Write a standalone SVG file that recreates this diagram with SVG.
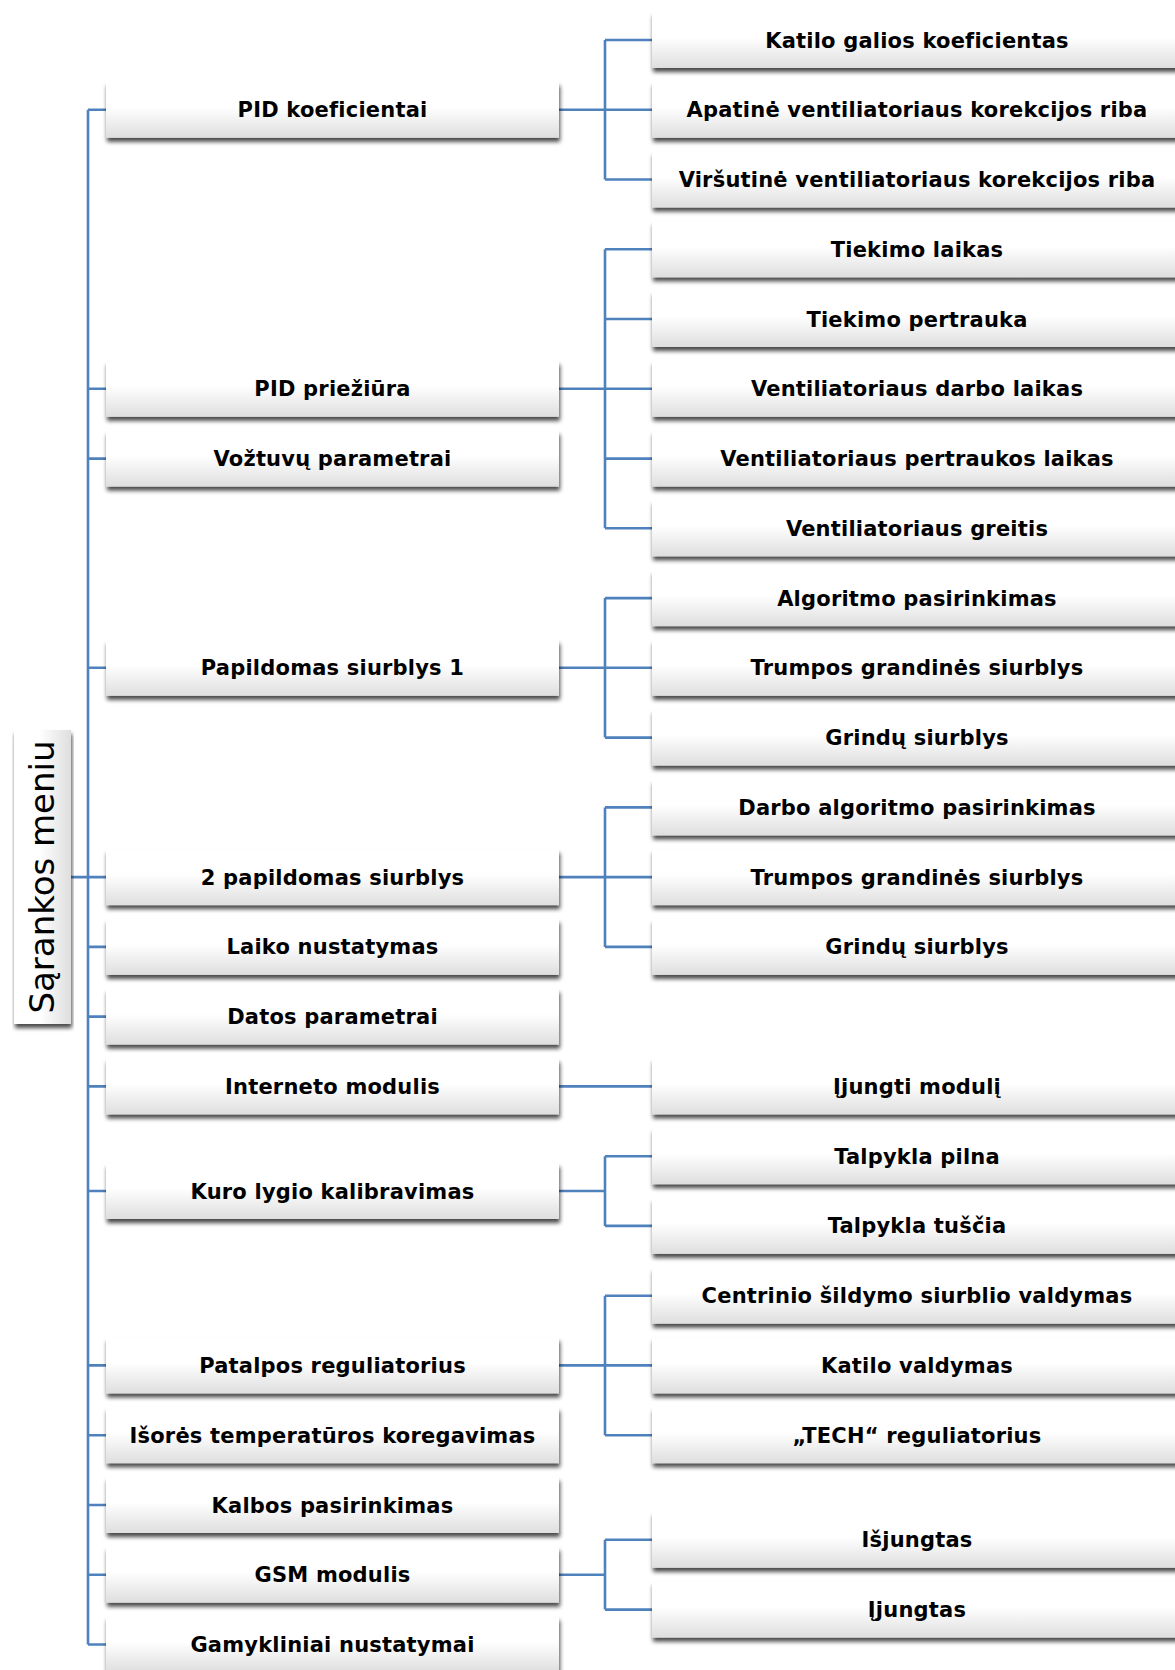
<svg xmlns="http://www.w3.org/2000/svg" width="1175" height="1670" viewBox="0 0 1175 1670">
<style>
.box{fill:url(#g);filter:url(#sh)}
.rbox{fill:url(#gr);filter:url(#sh)}
.t{font-family:"DejaVu Sans",Verdana,sans-serif;font-weight:bold;font-size:21px;letter-spacing:0.2px;fill:#000;text-anchor:middle}
.root{font-family:"DejaVu Sans",sans-serif;font-size:34px;fill:#000;text-anchor:middle}
.c{fill:none;stroke:#4F81BD;stroke-width:2.6}
</style>
<defs>
<linearGradient id="g" x1="0" y1="0" x2="0" y2="1">
<stop offset="0" stop-color="#ffffff"/>
<stop offset="0.45" stop-color="#ffffff"/>
<stop offset="1" stop-color="#dedede"/>
</linearGradient>
<linearGradient id="gr" x1="0" y1="0" x2="1" y2="0">
<stop offset="0" stop-color="#ffffff"/>
<stop offset="0.45" stop-color="#ffffff"/>
<stop offset="1" stop-color="#dedede"/>
</linearGradient>
<filter id="sh" x="-5%" y="-20%" width="110%" height="150%">
<feGaussianBlur in="SourceAlpha" stdDeviation="2"/>
<feOffset dx="1" dy="4" result="b"/>
<feComponentTransfer><feFuncA type="linear" slope="0.72"/></feComponentTransfer>
<feMerge><feMergeNode/><feMergeNode in="SourceGraphic"/></feMerge>
</filter>
</defs>
<rect width="1175" height="1670" fill="#fff"/>

<g id="connectors">
<path class="c" d="M88 109.8V1644.5M71 877.1H88"/>
<path class="c" d="M88 109.8H106M88 388.8H106M88 458.6H106M88 667.8H106M88 877.1H106M88 946.9H106M88 1016.6H106M88 1086.4H106M88 1191H106M88 1365.4H106M88 1435.2H106M88 1505H106M88 1574.7H106M88 1644.5H106"/>
<path class="c" d="M559 109.8H605M605 40V179.5M605 40H652M605 109.8H652M605 179.5H652"/>
<path class="c" d="M559 388.8H605M605 249.3V528.3M605 249.3H652M605 319H652M605 388.8H652M605 458.6H652M605 528.3H652"/>
<path class="c" d="M559 667.8H605M605 598.1V737.6M605 598.1H652M605 667.8H652M605 737.6H652"/>
<path class="c" d="M559 877.1H605M605 807.4V946.9M605 807.4H652M605 877.1H652M605 946.9H652"/>
<path class="c" d="M559 1086.4H652"/>
<path class="c" d="M559 1191H605M605 1156.2V1225.9M605 1156.2H652M605 1225.9H652"/>
<path class="c" d="M559 1365.4H605M605 1295.7V1435.2M605 1295.7H652M605 1365.4H652M605 1435.2H652"/>
<path class="c" d="M559 1574.7H605M605 1539.8V1609.6M605 1539.8H652M605 1609.6H652"/>
</g>

<g id="root">
<rect class="rbox" x="14" y="730" width="57" height="294"/>
<text class="root" x="54" y="877" transform="rotate(-90 54 877)">Sąrankos meniu</text>
</g>

<g id="n-pid-koef"><rect class="box" x="106" y="81.8" width="453" height="56"/><text class="t" x="332.5" y="117.3">PID koeficientai</text></g>
<g id="n-pid-prieziura"><rect class="box" x="106" y="360.8" width="453" height="56"/><text class="t" x="332.5" y="396.3">PID priežiūra</text></g>
<g id="n-voztuvu"><rect class="box" x="106" y="430.6" width="453" height="56"/><text class="t" x="332.5" y="466.1">Vožtuvų parametrai</text></g>
<g id="n-pap1"><rect class="box" x="106" y="639.8" width="453" height="56"/><text class="t" x="332.5" y="675.3">Papildomas siurblys 1</text></g>
<g id="n-pap2"><rect class="box" x="106" y="849.1" width="453" height="56"/><text class="t" x="332.5" y="884.6">2 papildomas siurblys</text></g>
<g id="n-laiko"><rect class="box" x="106" y="918.9" width="453" height="56"/><text class="t" x="332.5" y="954.4">Laiko nustatymas</text></g>
<g id="n-datos"><rect class="box" x="106" y="988.6" width="453" height="56"/><text class="t" x="332.5" y="1024.1">Datos parametrai</text></g>
<g id="n-interneto"><rect class="box" x="106" y="1058.4" width="453" height="56"/><text class="t" x="332.5" y="1093.9">Interneto modulis</text></g>
<g id="n-kuro"><rect class="box" x="106" y="1163" width="453" height="56"/><text class="t" x="332.5" y="1198.5">Kuro lygio kalibravimas</text></g>
<g id="n-patalpos"><rect class="box" x="106" y="1337.4" width="453" height="56"/><text class="t" x="332.5" y="1372.9">Patalpos reguliatorius</text></g>
<g id="n-isores"><rect class="box" x="106" y="1407.2" width="453" height="56"/><text class="t" x="332.5" y="1442.7">Išorės temperatūros koregavimas</text></g>
<g id="n-kalbos"><rect class="box" x="106" y="1477" width="453" height="56"/><text class="t" x="332.5" y="1512.5">Kalbos pasirinkimas</text></g>
<g id="n-gsm"><rect class="box" x="106" y="1546.7" width="453" height="56"/><text class="t" x="332.5" y="1582.2">GSM modulis</text></g>
<g id="n-gamykliniai"><rect class="box" x="106" y="1616.5" width="453" height="56"/><text class="t" x="332.5" y="1652">Gamykliniai nustatymai</text></g>

<g id="c-katilo-galios"><rect class="box" x="652" y="12" width="530" height="56"/><text class="t" x="917" y="47.5">Katilo galios koeficientas</text></g>
<g id="c-apatine"><rect class="box" x="652" y="81.8" width="530" height="56"/><text class="t" x="917" y="117.3">Apatinė ventiliatoriaus korekcijos riba</text></g>
<g id="c-virsutine"><rect class="box" x="652" y="151.5" width="530" height="56"/><text class="t" x="917" y="187">Viršutinė ventiliatoriaus korekcijos riba</text></g>
<g id="c-tiekimo-laikas"><rect class="box" x="652" y="221.3" width="530" height="56"/><text class="t" x="917" y="256.8">Tiekimo laikas</text></g>
<g id="c-tiekimo-pertrauka"><rect class="box" x="652" y="291" width="530" height="56"/><text class="t" x="917" y="326.5">Tiekimo pertrauka</text></g>
<g id="c-vent-darbo"><rect class="box" x="652" y="360.8" width="530" height="56"/><text class="t" x="917" y="396.3">Ventiliatoriaus darbo laikas</text></g>
<g id="c-vent-pertraukos"><rect class="box" x="652" y="430.6" width="530" height="56"/><text class="t" x="917" y="466.1">Ventiliatoriaus pertraukos laikas</text></g>
<g id="c-vent-greitis"><rect class="box" x="652" y="500.3" width="530" height="56"/><text class="t" x="917" y="535.8">Ventiliatoriaus greitis</text></g>
<g id="c-algoritmo"><rect class="box" x="652" y="570.1" width="530" height="56"/><text class="t" x="917" y="605.6">Algoritmo pasirinkimas</text></g>
<g id="c-trumpos1"><rect class="box" x="652" y="639.8" width="530" height="56"/><text class="t" x="917" y="675.3">Trumpos grandinės siurblys</text></g>
<g id="c-grindu1"><rect class="box" x="652" y="709.6" width="530" height="56"/><text class="t" x="917" y="745.1">Grindų siurblys</text></g>
<g id="c-darbo-algoritmo"><rect class="box" x="652" y="779.4" width="530" height="56"/><text class="t" x="917" y="814.9">Darbo algoritmo pasirinkimas</text></g>
<g id="c-trumpos2"><rect class="box" x="652" y="849.1" width="530" height="56"/><text class="t" x="917" y="884.6">Trumpos grandinės siurblys</text></g>
<g id="c-grindu2"><rect class="box" x="652" y="918.9" width="530" height="56"/><text class="t" x="917" y="954.4">Grindų siurblys</text></g>
<g id="c-ijungti-moduli"><rect class="box" x="652" y="1058.4" width="530" height="56"/><text class="t" x="917" y="1093.9">Įjungti modulį</text></g>
<g id="c-talpykla-pilna"><rect class="box" x="652" y="1128.2" width="530" height="56"/><text class="t" x="917" y="1163.7">Talpykla pilna</text></g>
<g id="c-talpykla-tuscia"><rect class="box" x="652" y="1197.9" width="530" height="56"/><text class="t" x="917" y="1233.4">Talpykla tuščia</text></g>
<g id="c-centrinio"><rect class="box" x="652" y="1267.7" width="530" height="56"/><text class="t" x="917" y="1303.2">Centrinio šildymo siurblio valdymas</text></g>
<g id="c-katilo-valdymas"><rect class="box" x="652" y="1337.4" width="530" height="56"/><text class="t" x="917" y="1372.9">Katilo valdymas</text></g>
<g id="c-tech"><rect class="box" x="652" y="1407.2" width="530" height="56"/><text class="t" x="917" y="1442.7">„TECH“ reguliatorius</text></g>
<g id="c-isjungtas"><rect class="box" x="652" y="1511.8" width="530" height="56"/><text class="t" x="917" y="1547.3">Išjungtas</text></g>
<g id="c-ijungtas"><rect class="box" x="652" y="1581.6" width="530" height="56"/><text class="t" x="917" y="1617.1">Įjungtas</text></g>
</svg>
